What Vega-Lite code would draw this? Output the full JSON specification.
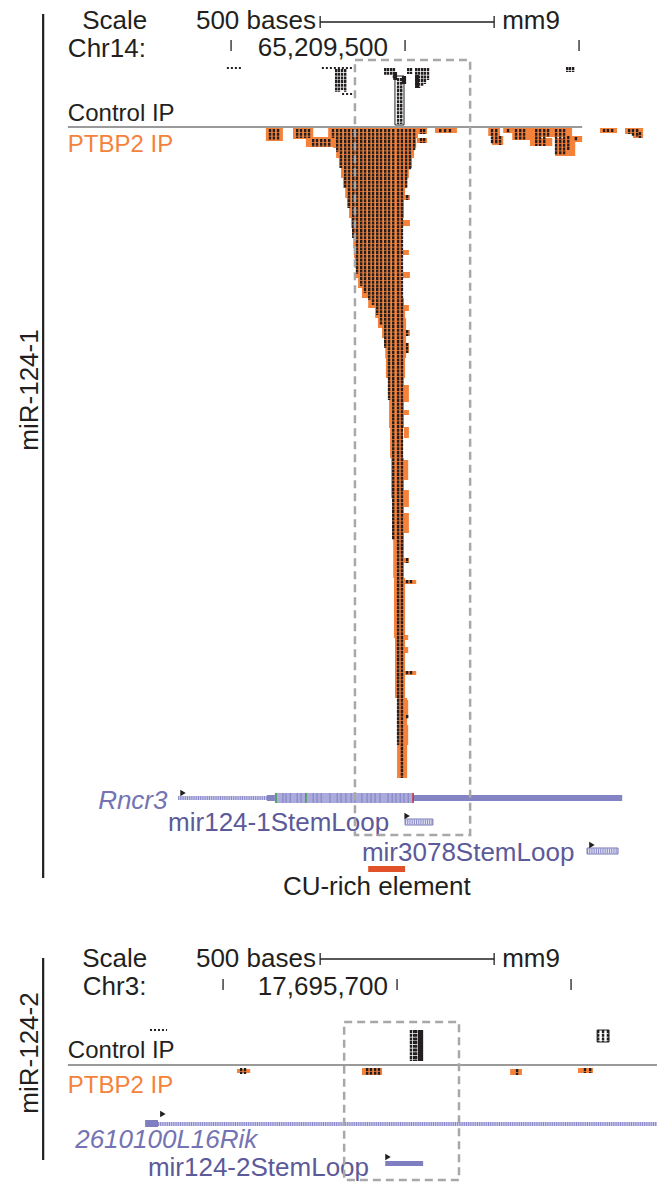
{
  "$schema": "https://vega.github.io/schema/vega-lite/v6.json",
  "padding": 0,
  "spacing": 0,
  "background": "white",
  "config": {"view": {"stroke": null}, "text": {"font": "Liberation Sans"}},
  "vconcat": [
    {
      "width": 657,
      "height": 915,
      "encoding": {
        "x": {"field": "pos", "type": "quantitative", "scale": {"domain": [65208336, 65210224], "nice": false, "zero": false}, "axis": null},
        "y": {"field": "row", "type": "quantitative", "scale": {"domain": [0, 915], "reverse": true, "nice": false, "zero": false}, "axis": null}
      },
      "layer": [
        {
          "data": {"values": [
            {"pos": 65209100, "end": 65209149, "row": 128, "row2": 141},
            {"pos": 65209178, "end": 65209236, "row": 128, "row2": 139},
            {"pos": 65209215, "end": 65209299, "row": 137, "row2": 147},
            {"pos": 65209534, "end": 65209563, "row": 128, "row2": 134},
            {"pos": 65209534, "end": 65209563, "row": 138, "row2": 143},
            {"pos": 65209586, "end": 65209649, "row": 128, "row2": 133},
            {"pos": 65209739, "end": 65209773, "row": 128, "row2": 136},
            {"pos": 65209750, "end": 65209782, "row": 136, "row2": 145},
            {"pos": 65209782, "end": 65209874, "row": 128, "row2": 133},
            {"pos": 65209808, "end": 65209888, "row": 133, "row2": 140},
            {"pos": 65209865, "end": 65209980, "row": 128, "row2": 137},
            {"pos": 65209859, "end": 65209923, "row": 138, "row2": 146},
            {"pos": 65209931, "end": 65209989, "row": 138, "row2": 156},
            {"pos": 65209960, "end": 65210009, "row": 136, "row2": 142},
            {"pos": 65210060, "end": 65210109, "row": 128, "row2": 133},
            {"pos": 65210132, "end": 65210184, "row": 128, "row2": 134},
            {"pos": 65210155, "end": 65210184, "row": 134, "row2": 138},
            {"pos": 65209279, "end": 65209537, "row": 128, "row2": 138},
            {"pos": 65209293, "end": 65209532, "row": 138, "row2": 148},
            {"pos": 65209302, "end": 65209526, "row": 148, "row2": 158},
            {"pos": 65209310, "end": 65209520, "row": 158, "row2": 168},
            {"pos": 65209316, "end": 65209511, "row": 168, "row2": 178},
            {"pos": 65209322, "end": 65209506, "row": 178, "row2": 188},
            {"pos": 65209328, "end": 65209500, "row": 188, "row2": 198},
            {"pos": 65209333, "end": 65209497, "row": 198, "row2": 208},
            {"pos": 65209339, "end": 65209497, "row": 208, "row2": 218},
            {"pos": 65209345, "end": 65209494, "row": 218, "row2": 228},
            {"pos": 65209348, "end": 65209491, "row": 228, "row2": 238},
            {"pos": 65209351, "end": 65209491, "row": 238, "row2": 248},
            {"pos": 65209353, "end": 65209491, "row": 248, "row2": 258},
            {"pos": 65209356, "end": 65209489, "row": 258, "row2": 268},
            {"pos": 65209359, "end": 65209489, "row": 268, "row2": 278},
            {"pos": 65209365, "end": 65209489, "row": 278, "row2": 288},
            {"pos": 65209376, "end": 65209491, "row": 288, "row2": 298},
            {"pos": 65209394, "end": 65209497, "row": 298, "row2": 308},
            {"pos": 65209414, "end": 65209500, "row": 308, "row2": 318},
            {"pos": 65209422, "end": 65209503, "row": 318, "row2": 328},
            {"pos": 65209434, "end": 65209503, "row": 328, "row2": 338},
            {"pos": 65209440, "end": 65209503, "row": 338, "row2": 348},
            {"pos": 65209443, "end": 65209503, "row": 348, "row2": 358},
            {"pos": 65209445, "end": 65209500, "row": 358, "row2": 378},
            {"pos": 65209451, "end": 65209497, "row": 378, "row2": 398},
            {"pos": 65209454, "end": 65209497, "row": 398, "row2": 428},
            {"pos": 65209457, "end": 65209494, "row": 428, "row2": 458},
            {"pos": 65209460, "end": 65209497, "row": 458, "row2": 498},
            {"pos": 65209463, "end": 65209497, "row": 498, "row2": 538},
            {"pos": 65209466, "end": 65209497, "row": 538, "row2": 578},
            {"pos": 65209468, "end": 65209500, "row": 578, "row2": 638},
            {"pos": 65209471, "end": 65209500, "row": 638, "row2": 698},
            {"pos": 65209477, "end": 65209506, "row": 698, "row2": 778},
            {"pos": 65209494, "end": 65209514, "row": 195, "row2": 200},
            {"pos": 65209494, "end": 65209514, "row": 220, "row2": 226},
            {"pos": 65209494, "end": 65209511, "row": 250, "row2": 255},
            {"pos": 65209494, "end": 65209514, "row": 272, "row2": 278},
            {"pos": 65209497, "end": 65209511, "row": 305, "row2": 311},
            {"pos": 65209500, "end": 65209514, "row": 330, "row2": 336},
            {"pos": 65209500, "end": 65209511, "row": 343, "row2": 353},
            {"pos": 65209497, "end": 65209511, "row": 385, "row2": 402},
            {"pos": 65209497, "end": 65209511, "row": 410, "row2": 415},
            {"pos": 65209497, "end": 65209511, "row": 427, "row2": 438},
            {"pos": 65209497, "end": 65209509, "row": 460, "row2": 480},
            {"pos": 65209497, "end": 65209511, "row": 490, "row2": 507},
            {"pos": 65209497, "end": 65209511, "row": 513, "row2": 533},
            {"pos": 65209497, "end": 65209511, "row": 558, "row2": 563},
            {"pos": 65209497, "end": 65209532, "row": 580, "row2": 584},
            {"pos": 65209497, "end": 65209509, "row": 635, "row2": 640},
            {"pos": 65209497, "end": 65209509, "row": 647, "row2": 653},
            {"pos": 65209497, "end": 65209532, "row": 671, "row2": 675},
            {"pos": 65209497, "end": 65209509, "row": 700, "row2": 717},
            {"pos": 65209497, "end": 65209509, "row": 725, "row2": 745}
          ]},
          "mark": {"type": "rect", "color": "#f5823a"},
          "encoding": {"x2": {"field": "end"}, "y2": {"field": "row2"}}
        },
        {
          "data": {"values": [
            {"pos": 65209471, "end": 65209497, "row": 76, "row2": 125}
          ]},
          "mark": {"type": "rect", "fill": "white", "stroke": "#231f20", "strokeWidth": 1},
          "encoding": {"x2": {"field": "end"}, "y2": {"field": "row2"}}
        },
        {
          "data": {"values": [
            {"pos": 65209466, "end": 65209477, "row": 72, "row2": 80},
            {"pos": 65209491, "end": 65209503, "row": 76, "row2": 84},
            {"pos": 65209529, "end": 65209540, "row": 75, "row2": 88}
          ]},
          "mark": {"type": "rect", "color": "#231f20"},
          "encoding": {"x2": {"field": "end"}, "y2": {"field": "row2"}}
        },
        {
          "data": {"values": [
            {"pos": 65209293, "row": 129, "row2": 138},
            {"pos": 65209305, "row": 129, "row2": 152},
            {"pos": 65209316, "row": 129, "row2": 168},
            {"pos": 65209328, "row": 129, "row2": 188},
            {"pos": 65209339, "row": 129, "row2": 208},
            {"pos": 65209351, "row": 129, "row2": 238},
            {"pos": 65209362, "row": 129, "row2": 274},
            {"pos": 65209374, "row": 129, "row2": 286},
            {"pos": 65209385, "row": 129, "row2": 293},
            {"pos": 65209397, "row": 129, "row2": 300},
            {"pos": 65209408, "row": 129, "row2": 305},
            {"pos": 65209420, "row": 129, "row2": 315},
            {"pos": 65209431, "row": 129, "row2": 325},
            {"pos": 65209443, "row": 129, "row2": 348},
            {"pos": 65209454, "row": 129, "row2": 400},
            {"pos": 65209466, "row": 129, "row2": 540},
            {"pos": 65209480, "row": 129, "row2": 745},
            {"pos": 65209491, "row": 129, "row2": 778},
            {"pos": 65209503, "row": 129, "row2": 188},
            {"pos": 65209514, "row": 129, "row2": 170},
            {"pos": 65209526, "row": 129, "row2": 150},
            {"pos": 65209112, "row": 129, "row2": 140},
            {"pos": 65209123, "row": 129, "row2": 140},
            {"pos": 65209135, "row": 129, "row2": 140},
            {"pos": 65209190, "row": 129, "row2": 138},
            {"pos": 65209201, "row": 129, "row2": 138},
            {"pos": 65209213, "row": 129, "row2": 138},
            {"pos": 65209224, "row": 129, "row2": 138},
            {"pos": 65209236, "row": 139, "row2": 147},
            {"pos": 65209247, "row": 139, "row2": 147},
            {"pos": 65209259, "row": 139, "row2": 147},
            {"pos": 65209270, "row": 139, "row2": 147},
            {"pos": 65209282, "row": 139, "row2": 147},
            {"pos": 65209546, "row": 129, "row2": 134},
            {"pos": 65209555, "row": 129, "row2": 134},
            {"pos": 65209546, "row": 138, "row2": 143},
            {"pos": 65209555, "row": 138, "row2": 143},
            {"pos": 65209601, "row": 129, "row2": 133},
            {"pos": 65209615, "row": 129, "row2": 133},
            {"pos": 65209629, "row": 129, "row2": 133},
            {"pos": 65209750, "row": 129, "row2": 144},
            {"pos": 65209762, "row": 129, "row2": 144},
            {"pos": 65209773, "row": 136, "row2": 145},
            {"pos": 65209796, "row": 129, "row2": 133},
            {"pos": 65209819, "row": 129, "row2": 140},
            {"pos": 65209831, "row": 129, "row2": 140},
            {"pos": 65209842, "row": 129, "row2": 140},
            {"pos": 65209877, "row": 129, "row2": 146},
            {"pos": 65209888, "row": 129, "row2": 146},
            {"pos": 65209900, "row": 129, "row2": 146},
            {"pos": 65209911, "row": 129, "row2": 137},
            {"pos": 65209934, "row": 129, "row2": 155},
            {"pos": 65209946, "row": 129, "row2": 155},
            {"pos": 65209957, "row": 129, "row2": 155},
            {"pos": 65209969, "row": 136, "row2": 150},
            {"pos": 65209991, "row": 137, "row2": 141},
            {"pos": 65210072, "row": 129, "row2": 132},
            {"pos": 65210083, "row": 129, "row2": 132},
            {"pos": 65210095, "row": 129, "row2": 132},
            {"pos": 65210144, "row": 129, "row2": 134},
            {"pos": 65210155, "row": 129, "row2": 136},
            {"pos": 65210167, "row": 129, "row2": 137},
            {"pos": 65210175, "row": 132, "row2": 138},
            {"pos": 65209506, "row": 580, "row2": 584},
            {"pos": 65209517, "row": 580, "row2": 584},
            {"pos": 65209506, "row": 671, "row2": 675},
            {"pos": 65209517, "row": 671, "row2": 675},
            {"pos": 65209506, "row": 558, "row2": 563},
            {"pos": 65209506, "row": 715, "row2": 719},
            {"pos": 65209506, "row": 330, "row2": 336},
            {"pos": 65209506, "row": 343, "row2": 353},
            {"pos": 65209506, "row": 195, "row2": 200},
            {"pos": 65209302, "row": 69, "row2": 92},
            {"pos": 65209310, "row": 69, "row2": 92},
            {"pos": 65209319, "row": 69, "row2": 90},
            {"pos": 65209328, "row": 69, "row2": 92},
            {"pos": 65209443, "row": 68, "row2": 75},
            {"pos": 65209451, "row": 68, "row2": 75},
            {"pos": 65209460, "row": 68, "row2": 75},
            {"pos": 65209468, "row": 68, "row2": 78},
            {"pos": 65209480, "row": 78, "row2": 124},
            {"pos": 65209489, "row": 78, "row2": 124},
            {"pos": 65209509, "row": 68, "row2": 74},
            {"pos": 65209517, "row": 68, "row2": 74},
            {"pos": 65209532, "row": 68, "row2": 88},
            {"pos": 65209540, "row": 68, "row2": 88},
            {"pos": 65209549, "row": 68, "row2": 86},
            {"pos": 65209557, "row": 68, "row2": 84},
            {"pos": 65209566, "row": 68, "row2": 80},
            {"pos": 65209966, "row": 67, "row2": 72},
            {"pos": 65209974, "row": 67, "row2": 72},
            {"pos": 65209983, "row": 67, "row2": 72}
          ]},
          "mark": {"type": "rule", "color": "#231f20", "strokeWidth": 2.4, "strokeDash": [3, 0.7]},
          "encoding": {"y2": {"field": "row2"}}
        },
        {
          "data": {"values": [
            {"pos": 65208988, "end": 65209034, "row": 68},
            {"pos": 65209261, "end": 65209348, "row": 68},
            {"pos": 65209319, "end": 65209348, "row": 94}
          ]},
          "mark": {"type": "rule", "color": "#231f20", "strokeWidth": 2, "strokeDash": [2, 2]},
          "encoding": {"x2": {"field": "end"}}
        },
        {
          "data": {"values": [{"pos": 65208531, "end": 65210009, "row": 127}]},
          "mark": {"type": "rule", "color": "#9a9a9a", "strokeWidth": 2},
          "encoding": {"x2": {"field": "end"}}
        },
        {
          "data": {"values": [{"pos": 65209256, "end": 65209756, "row": 22}]},
          "mark": {"type": "rule", "color": "#231f20", "strokeWidth": 1.3},
          "encoding": {"x2": {"field": "end"}}
        },
        {
          "data": {"values": [
            {"pos": 65209256, "row": 16, "row2": 28},
            {"pos": 65209756, "row": 16, "row2": 28},
            {"pos": 65209000, "row": 40, "row2": 51},
            {"pos": 65209500, "row": 40, "row2": 51},
            {"pos": 65210000, "row": 40, "row2": 51}
          ]},
          "mark": {"type": "rule", "color": "#231f20", "strokeWidth": 1.3},
          "encoding": {"y2": {"field": "row2"}}
        },
        {
          "data": {"values": [{"pos": 65208460, "row": 14, "row2": 878}]},
          "mark": {"type": "rule", "color": "#231f20", "strokeWidth": 2.2},
          "encoding": {"y2": {"field": "row2"}}
        },
        {
          "data": {"values": [
            {"label": "Scale", "pos": 65208572, "row": 29},
            {"label": "500 bases", "pos": 65208899, "row": 29},
            {"label": "mm9", "pos": 65209779, "row": 29},
            {"label": "Chr14:", "pos": 65208531, "row": 57},
            {"label": "65,209,500", "pos": 65209077, "row": 56},
            {"label": "CU-rich element", "pos": 65209149, "row": 895}
          ]},
          "mark": {"type": "text", "fontSize": 26, "color": "#231f20", "align": "left", "baseline": "alphabetic"},
          "encoding": {"text": {"field": "label"}}
        },
        {
          "data": {"values": [{"label": "Control IP", "pos": 65208531, "row": 121}]},
          "mark": {"type": "text", "fontSize": 24, "color": "#231f20", "align": "left", "baseline": "alphabetic"},
          "encoding": {"text": {"field": "label"}}
        },
        {
          "data": {"values": [{"label": "PTBP2 IP", "pos": 65208531, "row": 152}]},
          "mark": {"type": "text", "fontSize": 24, "color": "#f5823a", "align": "left", "baseline": "alphabetic"},
          "encoding": {"text": {"field": "label"}}
        },
        {
          "data": {"values": [{"label": "miR-124-1", "pos": 65208422, "row": 390}]},
          "mark": {"type": "text", "fontSize": 26, "color": "#231f20", "align": "center", "baseline": "middle", "angle": 270},
          "encoding": {"text": {"field": "label"}}
        },
        {
          "data": {"values": [{"pos": 65208848, "end": 65209103, "row": 796, "row2": 800}]},
          "mark": {"type": "rect", "color": "#c9c9eb"},
          "encoding": {"x2": {"field": "end"}, "y2": {"field": "row2"}}
        },
        {
          "data": {"values": [{"pos": 65208848, "end": 65209103, "row": 798}]},
          "mark": {"type": "rule", "color": "#8686c6", "strokeWidth": 4, "strokeDash": [1, 1.2]},
          "encoding": {"x2": {"field": "end"}}
        },
        {
          "data": {"values": [{"pos": 65209126, "end": 65209523, "row": 793, "row2": 803}]},
          "mark": {"type": "rect", "color": "#aaaadd"},
          "encoding": {"x2": {"field": "end"}, "y2": {"field": "row2"}}
        },
        {
          "data": {"values": [
            {"pos": 65209103, "end": 65209126, "row": 795, "row2": 801},
            {"pos": 65209523, "end": 65210124, "row": 795, "row2": 801}
          ]},
          "mark": {"type": "rect", "color": "#8484c4"},
          "encoding": {"x2": {"field": "end"}, "y2": {"field": "row2"}}
        },
        {
          "data": {"values": [
            {"pos": 65209149, "row": 793, "row2": 803},
            {"pos": 65209158, "row": 793, "row2": 803},
            {"pos": 65209170, "row": 793, "row2": 803},
            {"pos": 65209190, "row": 793, "row2": 803},
            {"pos": 65209201, "row": 793, "row2": 803},
            {"pos": 65209236, "row": 793, "row2": 803},
            {"pos": 65209247, "row": 793, "row2": 803},
            {"pos": 65209259, "row": 793, "row2": 803},
            {"pos": 65209284, "row": 793, "row2": 803},
            {"pos": 65209305, "row": 793, "row2": 803},
            {"pos": 65209316, "row": 793, "row2": 803},
            {"pos": 65209330, "row": 793, "row2": 803},
            {"pos": 65209345, "row": 793, "row2": 803},
            {"pos": 65209356, "row": 793, "row2": 803},
            {"pos": 65209376, "row": 793, "row2": 803},
            {"pos": 65209391, "row": 793, "row2": 803},
            {"pos": 65209402, "row": 793, "row2": 803},
            {"pos": 65209414, "row": 793, "row2": 803},
            {"pos": 65209428, "row": 793, "row2": 803},
            {"pos": 65209451, "row": 793, "row2": 803},
            {"pos": 65209463, "row": 793, "row2": 803},
            {"pos": 65209474, "row": 793, "row2": 803},
            {"pos": 65209486, "row": 793, "row2": 803},
            {"pos": 65209497, "row": 793, "row2": 803},
            {"pos": 65209509, "row": 793, "row2": 803}
          ]},
          "mark": {"type": "rule", "color": "#8080c0", "strokeWidth": 1},
          "encoding": {"y2": {"field": "row2"}}
        },
        {
          "data": {"values": [
            {"pos": 65209129, "row": 793, "row2": 803},
            {"pos": 65209215, "row": 793, "row2": 803}
          ]},
          "mark": {"type": "rule", "color": "#3f9f3f", "strokeWidth": 1.5},
          "encoding": {"y2": {"field": "row2"}}
        },
        {
          "data": {"values": [{"pos": 65209523, "row": 793, "row2": 803}]},
          "mark": {"type": "rule", "color": "#cc2a2a", "strokeWidth": 1.5},
          "encoding": {"y2": {"field": "row2"}}
        },
        {
          "data": {"values": [
            {"pos": 65209500, "end": 65209580, "row": 819, "row2": 825},
            {"pos": 65210023, "end": 65210112, "row": 848, "row2": 854}
          ]},
          "mark": {"type": "rect", "fill": "#e4e4f4", "stroke": "#7777b9", "strokeWidth": 1},
          "encoding": {"x2": {"field": "end"}, "y2": {"field": "row2"}}
        },
        {
          "data": {"values": [
            {"pos": 65209500, "end": 65209580, "row": 822},
            {"pos": 65210023, "end": 65210112, "row": 851}
          ]},
          "mark": {"type": "rule", "color": "#8686c6", "strokeWidth": 5, "strokeDash": [1, 1.2]},
          "encoding": {"x2": {"field": "end"}}
        },
        {
          "data": {"values": [{"pos": 65209394, "end": 65209500, "row": 866, "row2": 872}]},
          "mark": {"type": "rect", "color": "#e2522a"},
          "encoding": {"x2": {"field": "end"}, "y2": {"field": "row2"}}
        },
        {
          "data": {"values": [
            {"pos": 65208862, "row": 793},
            {"pos": 65209506, "row": 816},
            {"pos": 65210037, "row": 845}
          ]},
          "mark": {"type": "point", "shape": "triangle-right", "filled": true, "color": "#231f20", "size": 40, "opacity": 1}
        },
        {
          "data": {"values": [{"label": "Rncr3", "pos": 65208618, "row": 809}]},
          "mark": {"type": "text", "fontSize": 26, "fontStyle": "italic", "color": "#7473b3", "align": "left", "baseline": "alphabetic"},
          "encoding": {"text": {"field": "label"}}
        },
        {
          "data": {"values": [
            {"label": "mir124-1StemLoop", "pos": 65208819, "row": 831},
            {"label": "mir3078StemLoop", "pos": 65209376, "row": 861}
          ]},
          "mark": {"type": "text", "fontSize": 26, "color": "#5c5a99", "align": "left", "baseline": "alphabetic"},
          "encoding": {"text": {"field": "label"}}
        },
        {
          "data": {"values": [{"pos": 65209356, "end": 65209687, "row": 60, "row2": 835}]},
          "mark": {"type": "rect", "fill": null, "fillOpacity": 0, "stroke": "#a8a8a8", "strokeWidth": 2.5, "strokeDash": [8, 5]},
          "encoding": {"x2": {"field": "end"}, "y2": {"field": "row2"}}
        }
      ]
    },
    {
      "width": 657,
      "height": 267,
      "encoding": {
        "x": {"field": "pos", "type": "quantitative", "scale": {"domain": [17694559, 17696447], "nice": false, "zero": false}, "axis": null},
        "y": {"field": "row", "type": "quantitative", "scale": {"domain": [915, 1182], "reverse": true, "nice": false, "zero": false}, "axis": null}
      },
      "layer": [
        {
          "data": {"values": [
            {"pos": 17695240, "end": 17695278, "row": 1069, "row2": 1073},
            {"pos": 17695599, "end": 17695657, "row": 1068, "row2": 1075},
            {"pos": 17696025, "end": 17696059, "row": 1069, "row2": 1075},
            {"pos": 17696220, "end": 17696263, "row": 1068, "row2": 1073}
          ]},
          "mark": {"type": "rect", "color": "#f5823a"},
          "encoding": {"x2": {"field": "end"}, "y2": {"field": "row2"}}
        },
        {
          "data": {"values": [{"pos": 17696275, "end": 17696309, "row": 1030, "row2": 1042}]},
          "mark": {"type": "rect", "fill": "white", "stroke": "#231f20", "strokeWidth": 1},
          "encoding": {"x2": {"field": "end"}, "y2": {"field": "row2"}}
        },
        {
          "data": {"values": [{"pos": 17695760, "end": 17695775, "row": 1030, "row2": 1061}]},
          "mark": {"type": "rect", "color": "#231f20"},
          "encoding": {"x2": {"field": "end"}, "y2": {"field": "row2"}}
        },
        {
          "data": {"values": [
            {"pos": 17695252, "row": 1068, "row2": 1074},
            {"pos": 17695263, "row": 1068, "row2": 1074},
            {"pos": 17695614, "row": 1068, "row2": 1075},
            {"pos": 17695625, "row": 1068, "row2": 1075},
            {"pos": 17695637, "row": 1068, "row2": 1075},
            {"pos": 17695648, "row": 1068, "row2": 1075},
            {"pos": 17696045, "row": 1069, "row2": 1075},
            {"pos": 17696240, "row": 1068, "row2": 1073},
            {"pos": 17696255, "row": 1068, "row2": 1073},
            {"pos": 17695740, "row": 1030, "row2": 1061},
            {"pos": 17695749, "row": 1030, "row2": 1061},
            {"pos": 17695755, "row": 1030, "row2": 1061},
            {"pos": 17696278, "row": 1030, "row2": 1042},
            {"pos": 17696292, "row": 1030, "row2": 1042},
            {"pos": 17696306, "row": 1030, "row2": 1042}
          ]},
          "mark": {"type": "rule", "color": "#231f20", "strokeWidth": 2.4, "strokeDash": [3, 0.7]},
          "encoding": {"y2": {"field": "row2"}}
        },
        {
          "data": {"values": [{"pos": 17694990, "end": 17695039, "row": 1030}]},
          "mark": {"type": "rule", "color": "#231f20", "strokeWidth": 2, "strokeDash": [2, 2]},
          "encoding": {"x2": {"field": "end"}}
        },
        {
          "data": {"values": [{"pos": 17694754, "end": 17696447, "row": 1065}]},
          "mark": {"type": "rule", "color": "#9a9a9a", "strokeWidth": 2},
          "encoding": {"x2": {"field": "end"}}
        },
        {
          "data": {"values": [{"pos": 17695479, "end": 17695979, "row": 959}]},
          "mark": {"type": "rule", "color": "#231f20", "strokeWidth": 1.3},
          "encoding": {"x2": {"field": "end"}}
        },
        {
          "data": {"values": [
            {"pos": 17695479, "row": 953, "row2": 965},
            {"pos": 17695979, "row": 953, "row2": 965},
            {"pos": 17695200, "row": 979, "row2": 990},
            {"pos": 17695700, "row": 979, "row2": 990},
            {"pos": 17696200, "row": 979, "row2": 990}
          ]},
          "mark": {"type": "rule", "color": "#231f20", "strokeWidth": 1.3},
          "encoding": {"y2": {"field": "row2"}}
        },
        {
          "data": {"values": [{"pos": 17694683, "row": 958, "row2": 1160}]},
          "mark": {"type": "rule", "color": "#231f20", "strokeWidth": 2.2},
          "encoding": {"y2": {"field": "row2"}}
        },
        {
          "data": {"values": [
            {"label": "Scale", "pos": 17694795, "row": 967},
            {"label": "500 bases", "pos": 17695122, "row": 967},
            {"label": "mm9", "pos": 17696002, "row": 967},
            {"label": "Chr3:", "pos": 17694797, "row": 995},
            {"label": "17,695,700", "pos": 17695300, "row": 995}
          ]},
          "mark": {"type": "text", "fontSize": 26, "color": "#231f20", "align": "left", "baseline": "alphabetic"},
          "encoding": {"text": {"field": "label"}}
        },
        {
          "data": {"values": [{"label": "Control IP", "pos": 17694754, "row": 1058}]},
          "mark": {"type": "text", "fontSize": 24, "color": "#231f20", "align": "left", "baseline": "alphabetic"},
          "encoding": {"text": {"field": "label"}}
        },
        {
          "data": {"values": [{"label": "PTBP2 IP", "pos": 17694754, "row": 1093}]},
          "mark": {"type": "text", "fontSize": 24, "color": "#f5823a", "align": "left", "baseline": "alphabetic"},
          "encoding": {"text": {"field": "label"}}
        },
        {
          "data": {"values": [{"label": "miR-124-2", "pos": 17694645, "row": 1053}]},
          "mark": {"type": "text", "fontSize": 26, "color": "#231f20", "align": "center", "baseline": "middle", "angle": 270},
          "encoding": {"text": {"field": "label"}}
        },
        {
          "data": {"values": [{"pos": 17695013, "end": 17696447, "row": 1122, "row2": 1126}]},
          "mark": {"type": "rect", "color": "#c9c9eb"},
          "encoding": {"x2": {"field": "end"}, "y2": {"field": "row2"}}
        },
        {
          "data": {"values": [{"pos": 17695013, "end": 17696447, "row": 1124}]},
          "mark": {"type": "rule", "color": "#8686c6", "strokeWidth": 4, "strokeDash": [1, 1.2]},
          "encoding": {"x2": {"field": "end"}}
        },
        {
          "data": {"values": [
            {"pos": 17694976, "end": 17695013, "row": 1120, "row2": 1127},
            {"pos": 17695666, "end": 17695775, "row": 1161, "row2": 1166}
          ]},
          "mark": {"type": "rect", "color": "#7e7ec0"},
          "encoding": {"x2": {"field": "end"}, "y2": {"field": "row2"}}
        },
        {
          "data": {"values": [
            {"pos": 17695027, "row": 1114},
            {"pos": 17695674, "row": 1157}
          ]},
          "mark": {"type": "point", "shape": "triangle-right", "filled": true, "color": "#231f20", "size": 40, "opacity": 1}
        },
        {
          "data": {"values": [{"label": "2610100L16Rik", "pos": 17694775, "row": 1148}]},
          "mark": {"type": "text", "fontSize": 26, "fontStyle": "italic", "color": "#7473b3", "align": "left", "baseline": "alphabetic"},
          "encoding": {"text": {"field": "label"}}
        },
        {
          "data": {"values": [{"label": "mir124-2StemLoop", "pos": 17694984, "row": 1176}]},
          "mark": {"type": "text", "fontSize": 26, "color": "#5c5a99", "align": "left", "baseline": "alphabetic"},
          "encoding": {"text": {"field": "label"}}
        },
        {
          "data": {"values": [{"pos": 17695548, "end": 17695878, "row": 1022, "row2": 1180}]},
          "mark": {"type": "rect", "fill": null, "fillOpacity": 0, "stroke": "#a8a8a8", "strokeWidth": 2.5, "strokeDash": [8, 5]},
          "encoding": {"x2": {"field": "end"}, "y2": {"field": "row2"}}
        }
      ]
    }
  ]
}
